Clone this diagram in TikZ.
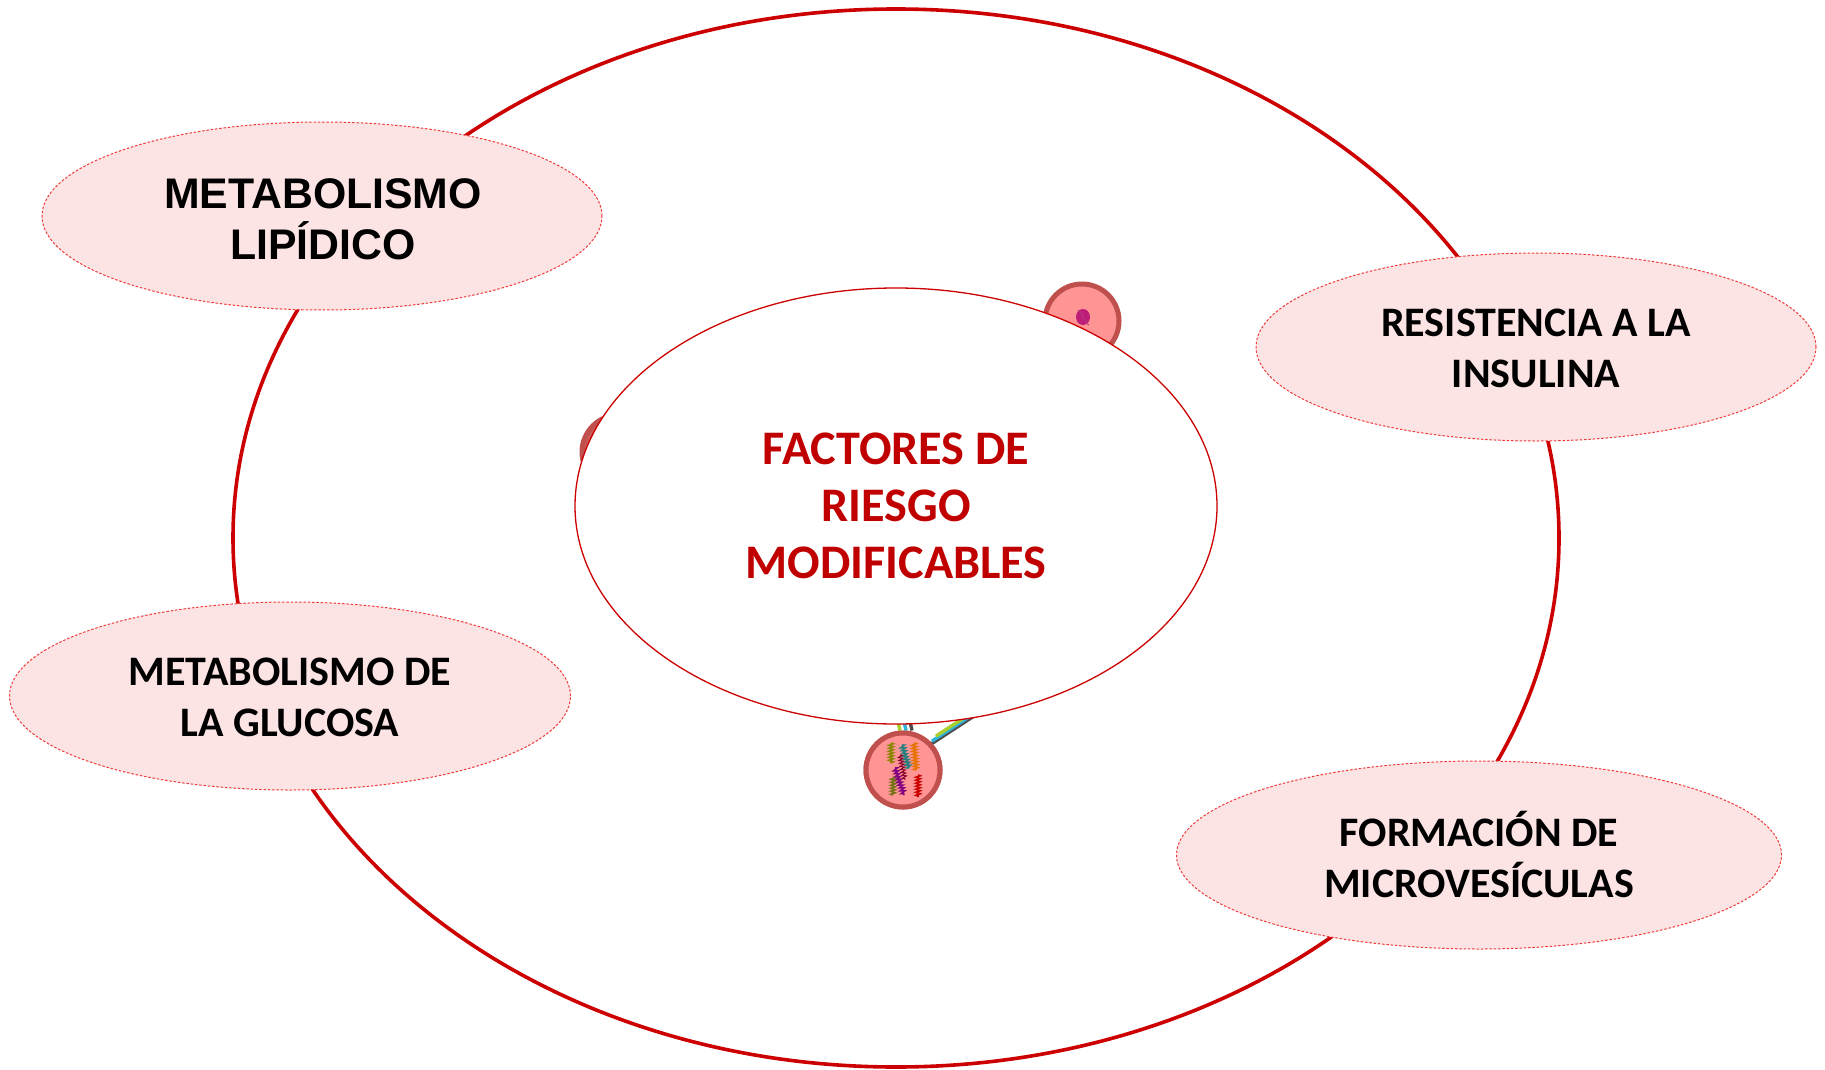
\documentclass[tikz,border=0pt]{standalone}
\usepackage{fontspec}
\setmainfont{Carlito}
\newfontfamily\arialb{Liberation Sans}
\usetikzlibrary{decorations.pathmorphing,shapes.geometric}
\definecolor{ringred}{HTML}{CC0000}
\definecolor{titlered}{HTML}{C00000}
\definecolor{petal}{HTML}{FDE4E4}
\definecolor{petaledge}{HTML}{F03A3A}
\definecolor{nodefill}{HTML}{FF9494}
\definecolor{nodeedge}{HTML}{C0504D}
\definecolor{edgegray}{HTML}{4D4D4D}
\definecolor{edgecyan}{HTML}{2FB4DA}
\definecolor{edgelime}{HTML}{A8CF2E}
\tikzset{
  petalbox/.style={ellipse, fill=petal, draw=petaledge, line width=1pt,
    dash pattern=on 2.5pt off 1.8pt},
  labeltext/.style={font=\fontsize{42}{51}\selectfont\bfseries, align=center, text=black},
  protein/.style={circle, minimum size=74pt, inner sep=0pt, fill=nodefill,
    draw=nodeedge, line width=5pt},
  linkline/.style={line width=3.4pt},
  helix/.style={line width=1.6pt, decorate,
    decoration={zigzag, segment length=3pt, amplitude=2.2pt}},
}
\begin{document}
\begin{tikzpicture}[x=1pt,y=-1pt]
\useasboundingbox (0,0) rectangle (1825,1070);
\fill[white] (0,0) rectangle (1825,1070);

% outer ring
\draw[ringred, line width=3.6pt] (896,538) ellipse [x radius=663, y radius=529];

% interaction network nodes, partly hidden by the central ellipse
\coordinate (hidA) at (897,690);
\coordinate (hidB) at (1000,696);
\node[protein] (pTop) at (1082,321) {};
\node[protein, fill=nodeedge!85!nodefill] (pLeft) at (619,452) {};
\node[protein] (pBot) at (903,770) {};
% links leaving the lower node
\draw[linkline, edgegray]  ([xshift=9pt]pBot.north)  -- ([xshift=6pt]hidA);
\draw[linkline, edgecyan]  ([xshift=3pt]pBot.north)  -- ([xshift=0pt]hidA);
\draw[linkline, edgelime]  ([xshift=-3pt]pBot.north) -- ([xshift=-6pt]hidA);
\draw[linkline, edgegray]  ([xshift=-3pt,yshift=-4pt]pBot.north east) -- ([xshift=-3pt,yshift=-5pt]hidB);
\draw[linkline, edgecyan]  ([xshift=1pt,yshift=1pt]pBot.north east)   -- ([xshift=1pt,yshift=0pt]hidB);
\draw[linkline, edgelime]  ([xshift=5pt,yshift=6pt]pBot.north east)   -- ([xshift=5pt,yshift=5pt]hidB);
\node[protein] at (pBot) {};
% folded chains inside the lower node
\draw[helix, olive] (891,743) -- (891,763);
\draw[helix, olive!80!black] (893,777) -- (893,795);
\draw[helix, teal!70!gray] (902,745) -- (909,768);
\draw[helix, violet] (895,768) -- (904,795);
\draw[helix, orange!90!black] (914,743) -- (916,770);
\draw[helix, red!80!black] (918,775) -- (918,797);
\draw[helix, purple!70!black, line width=1pt] (900,755) -- (905,780);
% small molecule in the upper node
\fill[purple!60!magenta!80!black, opacity=0.8] (1083,317) circle [x radius=7, y radius=8];
\draw[magenta!70!black, line width=0.8pt, decorate,
  decoration={random steps, segment length=2pt, amplitude=1.5pt}]
  (1078,310) -- (1089,325);

% central ellipse
\node[ellipse, draw=ringred, fill=white, line width=1.3pt,
  minimum width=642pt, minimum height=436pt] (core) at (896,506) {};
\node[font=\fontsize{48.2}{57}\selectfont\bfseries, text=titlered, align=center]
  (coretext) at (core) {FACTORES DE\\RIESGO\\MODIFICABLES};

% surrounding factors
\node[petalbox, minimum width=560pt, minimum height=188pt] (lip) at (322,216) {};
\node[labeltext, font=\arialb\fontsize{42.8}{51}\selectfont\bfseries] (liptext) at (323,219)
  {METABOLISMO\\LIPÍDICO};

\node[petalbox, minimum width=560pt, minimum height=188pt] (ins) at (1536,347) {};
\node[labeltext] (instext) at (1536,348) {RESISTENCIA A LA\\INSULINA};

\node[petalbox, minimum width=561pt, minimum height=188pt] (glu) at (290,696) {};
\node[labeltext] (glutext) at (290,697) {METABOLISMO DE\\LA GLUCOSA};

\node[petalbox, minimum width=605pt, minimum height=188pt] (mic) at (1479,855) {};
\node[labeltext] (mictext) at (1479,855) {FORMACIÓN DE\\MICROVESÍCULAS};
\end{tikzpicture}
\end{document}
